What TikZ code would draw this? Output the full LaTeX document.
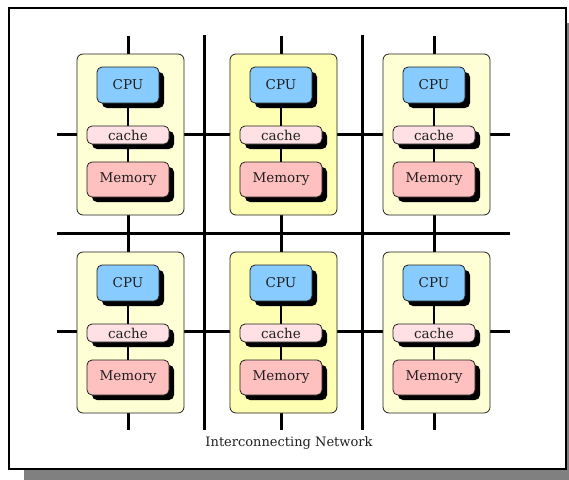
\documentclass[tikz,border=0pt]{standalone}
\usepackage{fontspec}
\setmainfont{DejaVu Serif}
\usetikzlibrary{shadows}
\pgfdeclarelayer{buses}
\pgfdeclarelayer{cells}
\pgfdeclarelayer{links}
\pgfsetlayers{buses,cells,links,main}
\definecolor{framegray}{HTML}{808080}
\definecolor{cellside}{HTML}{FFFFD6}
\definecolor{cellmid}{HTML}{FFFFB4}
\definecolor{cpublue}{HTML}{88CCFF}
\definecolor{cachepink}{HTML}{FFE0E4}
\definecolor{mempink}{HTML}{FFC0C0}
\definecolor{inkgray}{HTML}{202020}
\tikzset{
  netline/.style={line width=3pt, black},
  linkline/.style={line width=2.6pt, black},
  cellbox/.style={draw=inkgray, line width=0.8pt, rounded corners=6pt,
    minimum width=107pt, minimum height=161pt, inner sep=0pt},
  unitbox/.style={draw=inkgray, line width=0.8pt, rounded corners=5pt,
    inner sep=0pt, text=inkgray, font=\fontsize{13.5}{15}\selectfont,
    drop shadow={shadow xshift=5pt, shadow yshift=-5pt, fill=black, opacity=1}},
  cpubox/.style={unitbox, fill=cpublue, minimum width=62pt, minimum height=36pt},
  cachebox/.style={unitbox, fill=cachepink, minimum width=82pt, minimum height=18pt},
  membox/.style={unitbox, fill=mempink, minimum width=82pt, minimum height=35pt},
}
\begin{document}
\begin{tikzpicture}[x=1pt,y=-1pt]
\useasboundingbox (0,0) rectangle (569,479);
\clip (0,0) rectangle (569,479);
% page frame with its shadow
\begin{pgfonlayer}{buses}
\fill[framegray] (24,23) rectangle (590,490);
\node[draw=black, fill=white, line width=2pt, minimum width=557pt, minimum height=461pt,
  inner sep=0pt] (frame) at (287.5,238.5) {};

% interconnecting network: horizontal buses
\foreach \y [count=\i] in {134,233,331} {
  \coordinate (hL\i) at (57,\y);
  \coordinate (hR\i) at (510,\y);
  \draw[netline] (hL\i) -- (hR\i);
}
% vertical buses between the columns
\foreach \x [count=\i] in {204,362} {
  \coordinate (vT\i) at (\x,35);
  \coordinate (vB\i) at (\x,430);
  \draw[netline] (vT\i) -- (vB\i);
}
% vertical buses through the columns
\foreach \c in {0,1,2} {
  \coordinate (cT\c) at (128+153*\c,36);
  \coordinate (cB\c) at (128+153*\c,430);
  \draw[netline] (cT\c) -- (cB\c);
}
\end{pgfonlayer}

% processing nodes
\foreach \r in {0,1} {
  \foreach \c in {0,1,2} {
    \pgfmathsetmacro{\cx}{128+153*\c}
    \pgfmathsetmacro{\cy}{198*\r}
    \ifnum\c=1 \def\cellfill{cellmid}\else\def\cellfill{cellside}\fi
    \begin{pgfonlayer}{cells}
      \node[cellbox, fill=\cellfill] (cell\r\c) at (\cx+2.5,134.5+\cy) {};
    \end{pgfonlayer}
    \node[cpubox] (cpu\r\c) at (\cx,85+\cy) {CPU};
    \node[cachebox] (cache\r\c) at (\cx,135+\cy) {cache};
    \node[membox] (mem\r\c) at (\cx,179.5+\cy) {Memory};
    % links between the units, beneath the boxes
    \begin{pgfonlayer}{links}
      \draw[linkline] (cpu\r\c.south) -- (cache\r\c.north);
      \draw[linkline] (cache\r\c.south) -- (mem\r\c.north);
    \end{pgfonlayer}
  }
}

\node[text=inkgray, font=\fontsize{13}{15}\selectfont] (caption) at (289,443)
  {Interconnecting Network};
\end{tikzpicture}
\end{document}
